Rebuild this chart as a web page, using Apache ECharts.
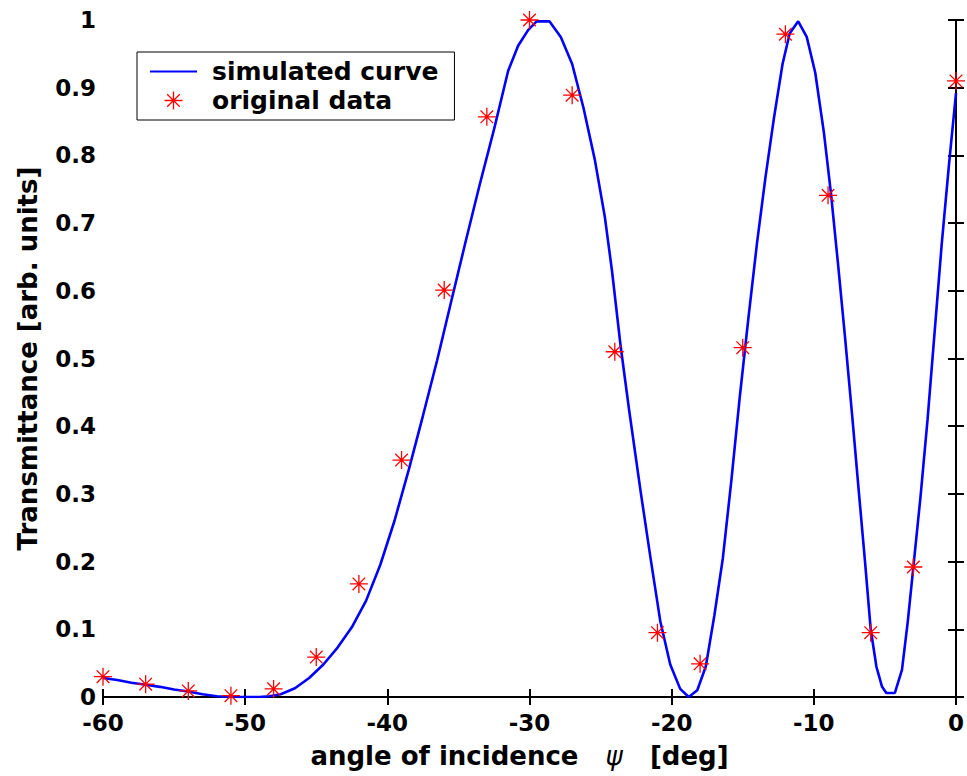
<!DOCTYPE html>
<html>
<head>
<meta charset="utf-8">
<script src="https://cdn.jsdelivr.net/npm/echarts@6/dist/echarts.min.js"></script>
<style>
html,body{margin:0;padding:0;background:#fff;}
#chart{width:967px;height:776px;}
</style>
</head>
<body>
<div id="chart"></div>
<script>
// ---- data ----
const curveX = [-60, -59, -58, -57, -56, -55, -54, -53, -52, -51, -50, -49, -48.3, -47.5, -46.5, -45.5, -44.5, -43.5, -42.5, -41.5, -40.5, -39.5, -38.5, -37.5, -36.5, -35.5, -34.5, -33.5, -32.5, -31.5, -30.8, -30.1, -29.5, -28.6, -27.8, -27.0, -26.2, -25.4, -24.7, -24.2, -23.6, -23.0, -22.2, -21.5, -20.8, -20.1, -19.4, -18.8, -18.2, -17.6, -17.0, -16.4, -15.8, -15.2, -14.6, -14.0, -13.4, -12.8, -12.2, -11.7, -11.1, -10.5, -9.9, -9.3, -8.8, -8.3, -7.8, -7.3, -6.8, -6.4, -6.0, -5.6, -5.2, -4.9, -4.3, -3.8, -3.4, -3.0, -2.5, -2.0, -1.5, -1.0, -0.5, 0];
const curveY = [0.028, 0.025, 0.021, 0.018, 0.015, 0.011, 0.008, 0.004, 0.001, 0.0, 0.0, 0.0, 0.001, 0.004, 0.013, 0.028, 0.048, 0.073, 0.103, 0.142, 0.195, 0.260, 0.335, 0.415, 0.497, 0.585, 0.672, 0.757, 0.838, 0.925, 0.962, 0.985, 0.998, 0.998, 0.975, 0.935, 0.870, 0.793, 0.709, 0.630, 0.520, 0.425, 0.306, 0.207, 0.112, 0.048, 0.012, 0.0, 0.010, 0.045, 0.120, 0.205, 0.320, 0.445, 0.560, 0.670, 0.768, 0.856, 0.935, 0.980, 0.998, 0.975, 0.922, 0.835, 0.745, 0.640, 0.530, 0.415, 0.295, 0.200, 0.100, 0.045, 0.015, 0.006, 0.006, 0.040, 0.110, 0.192, 0.295, 0.410, 0.540, 0.670, 0.785, 0.892];
const dataX = [-60, -57, -54, -51, -48, -45, -42, -39, -36, -33, -30, -27, -24, -21, -18, -15, -12, -9, -6, -3, 0];
const dataY = [0.030, 0.019, 0.009, 0.002, 0.012, 0.059, 0.167, 0.350, 0.601, 0.857, 1.000, 0.889, 0.510, 0.095, 0.049, 0.516, 0.979, 0.741, 0.095, 0.192, 0.910];
const seriesNames = ['simulated curve', 'original data'];
const xTitle = '{n|angle of incidence}   {p|ψ}   {n|[deg]}';
const yTitle = 'Transmittance [arb. units]';

const font = 'DejaVu Sans, Verdana, sans-serif';
const starPath = 'path://M10,0L10,20M0,10L20,10M3,3L17,17M3,17L17,3';
const curve = curveX.map((x, i) => [x, curveY[i]]);
const pts = dataX.map((x, i) => [x, dataY[i]]);

const chart = echarts.init(document.getElementById('chart'), null, {renderer: 'svg'});
const axisLine = {show: true, lineStyle: {color: '#000', width: 2}};
const axisTick = {show: true, inside: true, length: 8, lineStyle: {color: '#000', width: 2}};
const lbl = {color: '#000', fontSize: 23, fontWeight: 'bold', fontFamily: font};
chart.setOption({
  animation: false,
  backgroundColor: '#fff',
  grid: {left: 103, right: 7, top: 20, bottom: 79, containLabel: false},
  legend: {
    orient: 'vertical', left: 137, top: 52,
    padding: [7, 16, 7, 13],
    borderColor: '#000', borderWidth: 1, backgroundColor: '#fff',
    itemWidth: 47, itemHeight: 18, itemGap: 4,
    textStyle: {color: '#000', fontSize: 25, fontWeight: 'bold', fontFamily: font, padding: [0, 0, 0, 10]},
    data: [
      {name: seriesNames[0], icon: 'path://M0,9L47,9L47,11L0,11Z', itemStyle: {color: '#0000ff'}},
      {name: seriesNames[1], icon: starPath, itemStyle: {color: 'transparent', borderColor: '#ff0000', borderWidth: 1.3}}
    ]
  },
  xAxis: [
    {type: 'value', min: -60, max: 0, interval: 10, position: 'bottom',
     axisLine, axisTick, splitLine: {show: false},
     axisLabel: Object.assign({margin: 14}, lbl),
     name: xTitle, nameLocation: 'middle', nameGap: 46,
     nameTextStyle: {color: '#000', fontSize: 26, fontWeight: 'bold', fontFamily: font, padding: [0, 20, 0, 0],
       rich: {n: {fontSize: 26, fontWeight: 'bold', fontFamily: font, color: '#000'},
              p: {fontSize: 26, fontStyle: 'italic', fontWeight: 'normal', fontFamily: font, color: '#000'}}}},
    {type: 'value', min: -60, max: 0, interval: 10, position: 'top',
     axisLine, axisTick, splitLine: {show: false}, axisLabel: {show: false}}
  ],
  yAxis: [
    {type: 'value', min: 0, max: 1, interval: 0.1, position: 'left',
     axisLine, axisTick, splitLine: {show: false},
     axisLabel: Object.assign({margin: 7}, lbl),
     name: yTitle, nameLocation: 'middle', nameGap: 62,
     nameTextStyle: {color: '#000', fontSize: 26, fontWeight: 'bold', fontFamily: font}},
    {type: 'value', min: 0, max: 1, interval: 0.1, position: 'right',
     axisLine, axisTick, splitLine: {show: false}, axisLabel: {show: false}}
  ],
  series: [
    {name: seriesNames[0], type: 'line', data: curve, smooth: false, symbol: 'none',
     lineStyle: {color: '#0000ff', width: 2.6}, itemStyle: {color: '#0000ff'}, z: 2},
    {name: seriesNames[1], type: 'scatter', data: pts, symbol: starPath, symbolSize: 18,
     symbolKeepAspect: true,
     itemStyle: {color: 'transparent', borderColor: '#ff0000', borderWidth: 1.3, opacity: 1}, z: 3}
  ]
});
</script>
</body>
</html>
